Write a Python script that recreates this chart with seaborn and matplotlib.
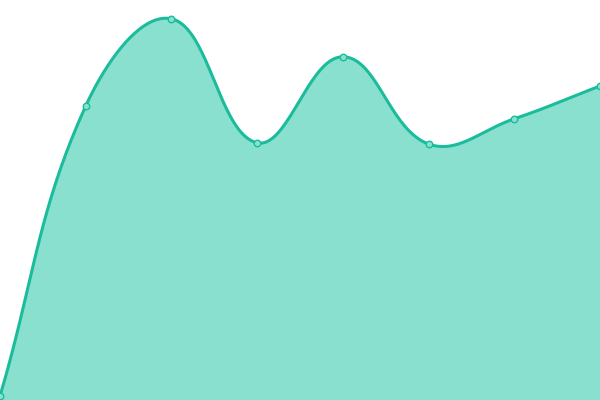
import numpy as np
import pandas as pd
import matplotlib
matplotlib.use("Agg")
import matplotlib.pyplot as plt
import seaborn as sns

# data
positions = [0, 1, 2, 3, 4, 5, 6, 7]
values = [1.0, 73.5, 95.3, 64.3, 85.8, 64.0, 70.3, 78.5]

LINE = "#1abc9c"
FILL = "#8ae0cf"

W, H = 600, 400
X_MAX, Y_MAX = 7, 100


def spline(xs, ys, tension=0.4, steps=40):
    # chart.js-like cardinal spline, computed in pixel space
    px = np.array(xs, float) * W / X_MAX
    py = np.array(ys, float) * H / Y_MAX
    n = len(px)
    cps = []
    for i in range(n):
        prev = (px[max(i - 1, 0)], py[max(i - 1, 0)])
        cur = (px[i], py[i])
        nxt = (px[min(i + 1, n - 1)], py[min(i + 1, n - 1)])
        d01 = np.hypot(cur[0] - prev[0], cur[1] - prev[1])
        d12 = np.hypot(nxt[0] - cur[0], nxt[1] - cur[1])
        tot = d01 + d12
        s01 = d01 / tot if tot else 0
        s12 = d12 / tot if tot else 0
        fa, fb = tension * s01, tension * s12
        dx, dy = nxt[0] - prev[0], nxt[1] - prev[1]
        cps.append(((cur[0] - fa * dx, cur[1] - fa * dy),
                    (cur[0] + fb * dx, cur[1] + fb * dy)))
    out_x, out_y = [], []
    t = np.linspace(0, 1, steps)
    for i in range(n - 1):
        p0 = np.array([px[i], py[i]])
        p1 = np.array(cps[i][1])
        p2 = np.array(cps[i + 1][0])
        p3 = np.array([px[i + 1], py[i + 1]])
        pts = ((1 - t)[:, None] ** 3 * p0 + 3 * (1 - t)[:, None] ** 2 * t[:, None] * p1
               + 3 * (1 - t)[:, None] * t[:, None] ** 2 * p2 + t[:, None] ** 3 * p3)
        out_x.extend(pts[:, 0])
        out_y.extend(pts[:, 1])
    return np.array(out_x) * X_MAX / W, np.array(out_y) * Y_MAX / H


sx, sy = spline(positions, values)
curve = pd.DataFrame({"x": sx, "y": sy})
pts = pd.DataFrame({"x": positions, "y": values})

sns.set_style("white")
fig = plt.figure(figsize=(6, 4), dpi=100)
ax = fig.add_axes([0, 0, 1, 1])

ax.fill_between(curve["x"], curve["y"], 0, color=FILL, lw=0)
sns.lineplot(data=curve, x="x", y="y", ax=ax, color=LINE, lw=2.2, sort=False)
sns.scatterplot(data=pts, x="x", y="y", ax=ax, s=22, color=FILL,
                edgecolor=LINE, linewidth=1.0, zorder=5, clip_on=True)

ax.set_xlim(0, X_MAX)
ax.set_ylim(0, Y_MAX)
ax.axis("off")

fig.savefig("out.png", dpi=100)
plt.close(fig)
